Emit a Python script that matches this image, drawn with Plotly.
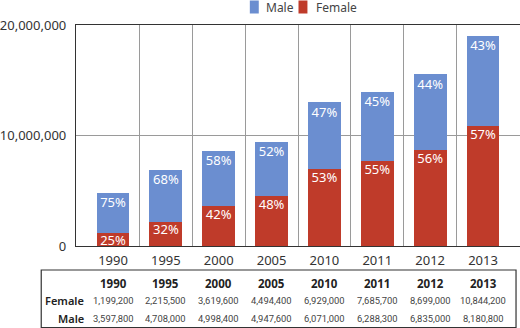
import plotly.graph_objects as go

years = ["1990", "1995", "2000", "2005", "2010", "2011", "2012", "2013"]
female = [1199200, 2215500, 3619600, 4494400, 6929000, 7685700, 8699000, 10844200]
male = [3597800, 4708000, 4998400, 4947600, 6071000, 6288300, 6835000, 8180800]
y_ticks = [0, 10000000, 20000000]

RED = "#bf3b2a"
BLUE = "#6b8ed0"
FONT = "Noto Sans"
TFONT = "Roboto"

idx = list(range(len(years)))
totals = [f + m for f, m in zip(female, male)]
fem_pct = [f"{round(100 * f / t)}%" for f, t in zip(female, totals)]
male_pct = [f"{100 - round(100 * f / t)}%" for f, t in zip(female, totals)]

fig = go.Figure()
fig.add_trace(go.Bar(
    x=idx, y=female, name="Female", marker=dict(color=RED, line=dict(width=0)),
    width=0.62, showlegend=False, hoverinfo="skip",
))
fig.add_trace(go.Bar(
    x=idx, y=male, name="Male", marker=dict(color=BLUE, line=dict(width=0)),
    width=0.62, showlegend=False, hoverinfo="skip",
))
fig.add_trace(go.Scatter(
    x=idx, y=female, mode="markers+text", text=fem_pct, textposition="bottom center",
    marker=dict(size=3, color="rgba(0,0,0,0)"),
    textfont=dict(color="white", size=13, family=FONT),
    showlegend=False, cliponaxis=False, hoverinfo="skip",
))
fig.add_trace(go.Scatter(
    x=idx, y=totals, mode="markers+text", text=male_pct, textposition="bottom center",
    marker=dict(size=6, color="rgba(0,0,0,0)"),
    textfont=dict(color="white", size=13, family=FONT),
    showlegend=False, cliponaxis=False, hoverinfo="skip",
))

L, R, T, B = 73, 0, 25, 82
W, H = 520, 328
pw = W - L - R
ph = H - T - B

def py(px):
    return (H - B - px) / ph

def pxp(px):
    return (px - L) / pw

annotations = []
for i, yr in enumerate(years):
    annotations.append(dict(x=i, y=py(283), xref="x", yref="paper", text=f"<b>{yr}</b>",
                            showarrow=False, font=dict(size=11.5, color="#222", family=FONT),
                            yanchor="middle"))
    annotations.append(dict(x=i, y=py(300), xref="x", yref="paper", text=f"{female[i]:,}",
                            showarrow=False, font=dict(size=9.4, color="#444", family=TFONT),
                            yanchor="middle"))
    annotations.append(dict(x=i, y=py(318), xref="x", yref="paper", text=f"{male[i]:,}",
                            showarrow=False, font=dict(size=9.4, color="#444", family=TFONT),
                            yanchor="middle"))
for lbl, ypx in (("Female", 300), ("Male", 318)):
    annotations.append(dict(x=pxp(83), y=py(ypx), xref="paper", yref="paper", text=lbl,
                            showarrow=False, xanchor="right", yanchor="middle",
                            font=dict(size=11, color="#222", family=FONT, weight=600)))

# manual legend (Male, Female)
legend_items = [("Male", BLUE, 248, 262), ("Female", RED, 297, 313)]
shapes = [dict(type="rect", xref="paper", yref="paper", x0=pxp(38), x1=pxp(516),
               y0=py(270), y1=py(327.5), line=dict(color="#333", width=1.2))]
for name, col, sx, tx in legend_items:
    shapes.append(dict(type="rect", xref="paper", yref="paper", x0=pxp(sx), x1=pxp(sx + 9),
                       y0=py(0.5), y1=py(13.5), fillcolor=col, line=dict(width=0)))
    annotations.append(dict(x=pxp(tx), y=py(7), xref="paper", yref="paper", text=name,
                            showarrow=False, xanchor="left", yanchor="middle",
                            font=dict(size=12, color="#444", family=FONT)))

fig.update_layout(
    width=W, height=H, barmode="stack",
    margin=dict(l=L, r=R, t=T, b=B, pad=0),
    plot_bgcolor="white", paper_bgcolor="white",
    font=dict(family=FONT, color="#333", size=13),
    showlegend=False,
    annotations=annotations,
    shapes=shapes,
    xaxis=dict(
        range=[-0.7, 7.7], tickmode="array", tickvals=idx, ticktext=years,
        showgrid=False, zeroline=False, showline=True, linecolor="#333", linewidth=1.2,
        mirror=True, ticks="", ticklabelstandoff=2, tickfont=dict(size=13, color="#333"),
        minor=dict(tickmode="array", tickvals=[i + 0.5 for i in idx[:-1]], showgrid=True,
                   gridcolor="#9a9a9a", gridwidth=1, ticks=""),
    ),
    yaxis=dict(
        range=[0, 20000000], tickmode="array", tickvals=y_ticks, tickformat=",",
        showgrid=True, gridcolor="#9a9a9a", gridwidth=1, zeroline=False,
        showline=True, linecolor="#333", linewidth=1.2, ticks="",
        ticklabelstandoff=6, tickfont=dict(size=13, color="#333"),
    ),
    bargap=0.38,
)

fig.write_html("out.html")
